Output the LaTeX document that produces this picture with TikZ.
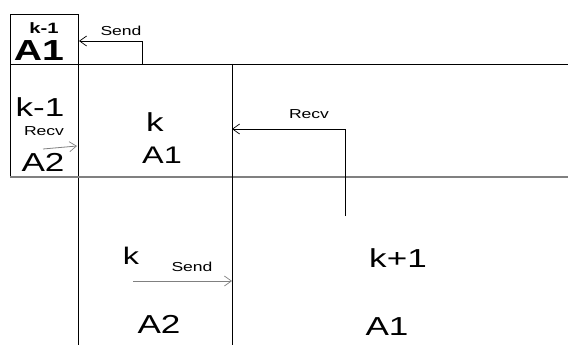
\documentclass[tikz,border=0pt]{standalone}
\usepackage{fontspec}
\setmainfont{Liberation Sans}[FakeStretch=1.35]
\usetikzlibrary{arrows.meta}

\tikzset{
    bigtext/.style={inner sep=0pt, font=\fontsize{26}{26}\selectfont},
    smalltext/.style={inner sep=0pt, font=\fontsize{13}{13}\selectfont},
    gridline/.style={line width=0.8pt, draw=borderColour},
    msgarrow/.style={line width=0.8pt, -{Straight Barb[length=7pt,width=10pt,line width=0.7pt]}}
}

\begin{document}
\begin{tikzpicture}[x=1pt, y=-1pt]
    % Define colours
    \definecolor{borderColour}{HTML}{000000}
    \definecolor{greyColour}{HTML}{808080}

    % Fix picture size
    \useasboundingbox (0,0) rectangle (568,345);

    % Draw block grid
    \draw[gridline] (10,64) -- (10,14) -- (78,14) -- (78,345);
    \draw[gridline] (10,64) -- (568,64);
    \draw[gridline] (10,64) -- (10,177);
    \draw[line width=1.5pt, draw=greyColour] (10,177) -- (568,177);
    \draw[gridline] (232,64) -- (232,345);

    % Text in the blocks
    \node[inner sep=0pt, font=\fontsize{15}{15}\selectfont\bfseries] (topk) at (44,28) {k-1};
    \node[bigtext, font=\fontsize{29}{29}\selectfont\bfseries] (topa) at (39,51) {A1};

    \node[bigtext] (leftk) at (40,107) {k-1};
    \node[bigtext] (lefta) at (43,162) {A2};

    \node[bigtext] (midk) at (155,122) {k};
    \node[bigtext, font=\fontsize{24}{24}\selectfont] (mida) at (162,155) {A1};

    \node[bigtext, font=\fontsize{24}{24}\selectfont] (lowk) at (131,256) {k};
    \node[bigtext] (lowa) at (159,324) {A2};

    \node[bigtext] (nextk) at (398,258) {k+1};
    \node[bigtext] (nexta) at (387,327) {A1};

    % Define coordinates for the messages
    \coordinate (S1) at (142,64);
    \coordinate (S2) at (142,41);
    \coordinate (S3) at (79,41);
    \coordinate (R1) at (43,149);
    \coordinate (R2) at (77,146);
    \coordinate (T1) at (345,216);
    \coordinate (T2) at (345,129);
    \coordinate (T3) at (232,129);
    \coordinate (U1) at (133,281);
    \coordinate (U2) at (232,281);

    % Draw the messages
    \draw[msgarrow] (S1) -- (S2) -- (S3);
    \node[smalltext] (sendtop) at (121,31) {Send};

    \draw[msgarrow, draw=greyColour] (R1) -- (R2);
    \node[smalltext] (recvleft) at (44,131) {Recv};

    \draw[msgarrow] (T1) -- (T2) -- (T3);
    \node[smalltext] (recvright) at (309,114) {Recv};

    \draw[msgarrow, draw=greyColour] (U1) -- (U2);
    \node[smalltext] (sendlow) at (192,267) {Send};

\end{tikzpicture}
\end{document}
